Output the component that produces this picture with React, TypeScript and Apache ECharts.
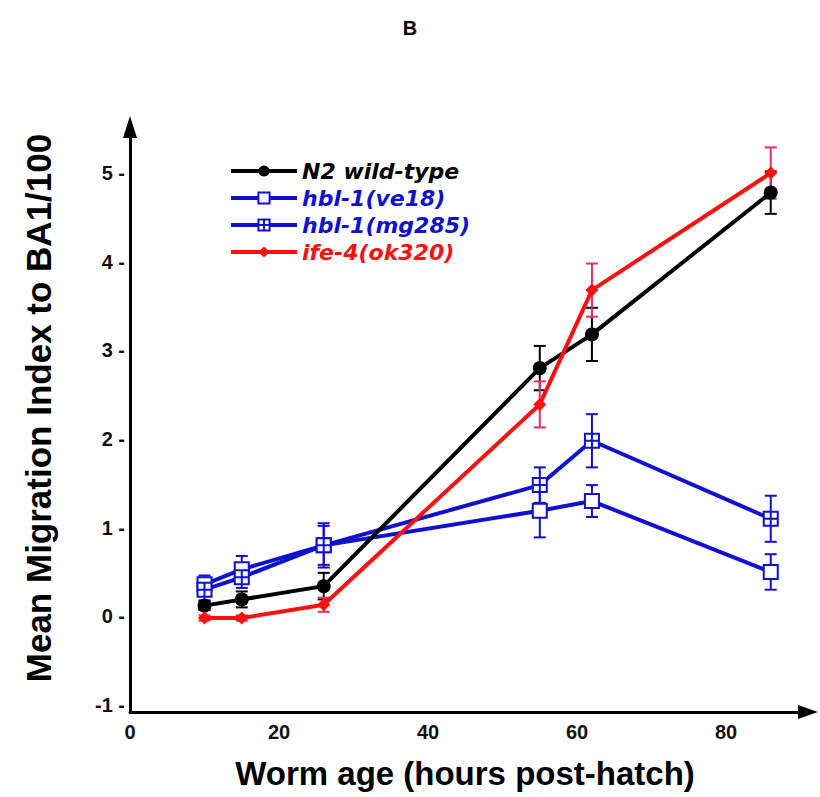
import React, { useEffect, useRef } from "react";
import * as echarts from "echarts";

const hours = [10, 15, 26, 55, 62, 86];
const seriesNames = ["N2 wild-type", "hbl-1(ve18)", "hbl-1(mg285)", "ife-4(ok320)"];
const n2 = [0.12, 0.19, 0.34, 2.8, 3.18, 4.78];
const n2Err = [0.05, 0.09, 0.15, 0.25, 0.3, 0.24];
const ve18 = [0.36, 0.53, 0.8, 1.19, 1.3, 0.5];
const ve18Err = [0.1, 0.15, 0.22, 0.3, 0.18, 0.2];
const mg285 = [0.3, 0.44, 0.8, 1.48, 1.98, 1.1];
const mg285Err = [0.12, 0.12, 0.25, 0.2, 0.3, 0.26];
const ife4 = [-0.02, -0.02, 0.13, 2.39, 3.68, 5.0];
const ife4Err = [0.03, 0.03, 0.08, 0.26, 0.3, 0.29];
const yTicks = [-1, 0, 1, 2, 3, 4, 5];
const xTicks = [0, 20, 40, 60, 80];

const BLUE = "#1010d0";
const RED = "#ff1010";
const BLACK = "#000000";
const ERR_RED = "#e0306a";

const crossSquare = "path://M0,0 L10,0 L10,10 L0,10 Z M5,0 L5,10 M0,5 L10,5";

function errSeries(vals: number[], errs: number[], color: string) {
  return {
    type: "custom",
    z: 1,
    silent: true,
    data: hours.map((h, i) => [h, vals[i] - errs[i], vals[i] + errs[i]]),
    renderItem: (params: any, api: any) => {
      const x = api.value(0);
      const lo = api.coord([x, api.value(1)]);
      const hi = api.coord([x, api.value(2)]);
      const w = 6;
      const st = { stroke: color, lineWidth: 2 };
      return {
        type: "group",
        children: [
          { type: "line", shape: { x1: lo[0], y1: lo[1], x2: hi[0], y2: hi[1] }, style: st },
          { type: "line", shape: { x1: lo[0] - w, y1: lo[1], x2: lo[0] + w, y2: lo[1] }, style: st },
          { type: "line", shape: { x1: hi[0] - w, y1: hi[1], x2: hi[0] + w, y2: hi[1] }, style: st },
        ],
      };
    },
  };
}

export default function App() {
  const ref = useRef<HTMLDivElement>(null);
  useEffect(() => {
    if (!ref.current) return;
    const chart = echarts.init(ref.current, null, { renderer: "svg" });
    const tickFont = { fontFamily: "Liberation Sans Narrow, Arial Narrow, Liberation Sans", fontWeight: "bold", fontSize: 20, color: "#111" };
    chart.setOption({
      animation: false,
      backgroundColor: "#ffffff",
      grid: { left: 130, right: 12, top: 127, bottom: 85 },
      xAxis: {
        type: "value",
        min: 0,
        max: 91,
        interval: 20,
        splitLine: { show: false },
        axisTick: { show: false },
        axisLine: { onZero: false, lineStyle: { color: "#000", width: 3 }, symbol: ["none", "triangle"], symbolSize: [14, 20] },
        axisLabel: { ...tickFont, margin: 10, customValues: xTicks },
      },
      yAxis: {
        type: "value",
        min: -1.08,
        max: 5.52,
        splitLine: { show: false },
        axisTick: { show: false },
        axisLine: { onZero: false, lineStyle: { color: "#000", width: 3 }, symbol: ["none", "triangle"], symbolSize: [14, 22] },
        axisLabel: { ...tickFont, margin: 5, customValues: yTicks, formatter: (v: number) => `${v} -` },
      },
      legend: {
        orient: "vertical",
        left: 224,
        top: 155,
        itemWidth: 66,
        itemHeight: 14,
        itemGap: 5,
        lineStyle: { width: 4 },
        textStyle: { fontFamily: "DejaVu Sans", fontStyle: "italic", fontWeight: "bold", fontSize: 22 },
        data: [
          { name: seriesNames[0], textStyle: { color: BLACK } },
          { name: seriesNames[1], textStyle: { color: BLUE } },
          { name: seriesNames[2], textStyle: { color: BLUE } },
          { name: seriesNames[3], textStyle: { color: RED } },
        ],
      },
      graphic: [
        { type: "text", x: 410, y: 28, style: { text: "B", fontFamily: "Liberation Sans Narrow, Liberation Sans", fontWeight: "bold", fontSize: 20, fill: "#000", align: "center", verticalAlign: "middle" } },
        { type: "text", x: 38, y: 408, rotation: Math.PI / 2, style: { text: "Mean Migration Index to BA1/100", fontFamily: "Liberation Sans, Arial", fontWeight: "bold", fontSize: 35, fill: "#000", align: "center", verticalAlign: "middle" } },
        { type: "text", x: 465, y: 773, style: { text: "Worm age (hours post-hatch)", fontFamily: "Liberation Sans, Arial", fontWeight: "bold", fontSize: 33, fill: "#000", align: "center", verticalAlign: "middle" } },
      ],
      series: [
        errSeries(n2, n2Err, BLACK),
        errSeries(ve18, ve18Err, BLUE),
        errSeries(mg285, mg285Err, BLUE),
        errSeries(ife4, ife4Err, ERR_RED),
        {
          name: seriesNames[1], type: "line", z: 3, data: hours.map((h, i) => [h, ve18[i]]),
          symbol: "rect", symbolSize: 14, lineStyle: { color: BLUE, width: 4 },
          itemStyle: { color: "#ffffff", borderColor: BLUE, borderWidth: 2 },
        },
        {
          name: seriesNames[2], type: "line", z: 3, data: hours.map((h, i) => [h, mg285[i]]),
          symbol: crossSquare, symbolSize: 14, lineStyle: { color: BLUE, width: 4 },
          itemStyle: { color: "#ffffff", borderColor: BLUE, borderWidth: 2 },
        },
        {
          name: seriesNames[0], type: "line", z: 4, data: hours.map((h, i) => [h, n2[i]]),
          symbol: "circle", symbolSize: 14, lineStyle: { color: BLACK, width: 4 },
          itemStyle: { color: BLACK },
        },
        {
          name: seriesNames[3], type: "line", z: 5, data: hours.map((h, i) => [h, ife4[i]]),
          symbol: "diamond", symbolSize: 13, lineStyle: { color: RED, width: 4 },
          itemStyle: { color: RED },
        },
      ],
    });
    return () => chart.dispose();
  }, []);
  return <div ref={ref} style={{ position: "absolute", left: 0, top: 0, width: 820, height: 797 }} />;
}
